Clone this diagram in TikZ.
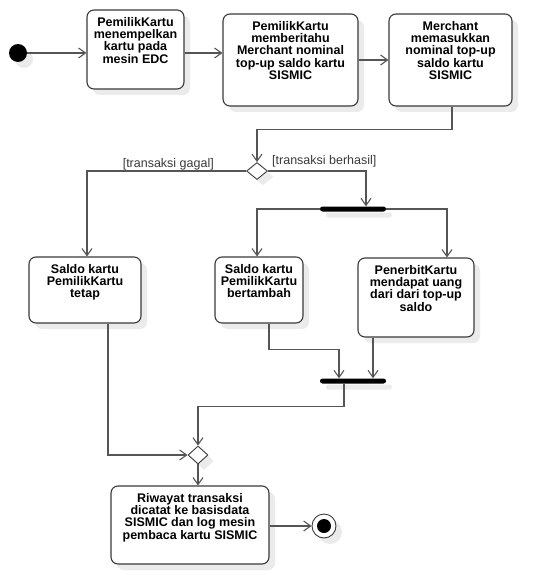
\documentclass[tikz,border=0pt]{standalone}
\usepackage{fontspec}
\setmainfont{Liberation Sans}
\usetikzlibrary{arrows.meta,shapes.geometric,shadows}
\definecolor{linegray}{HTML}{555555}
\definecolor{edgegray}{HTML}{3A3A3A}
\definecolor{shadegray}{HTML}{EBEBEB}
\newcommand{\actbox}[3]{\parbox[c][#2pt][t]{#1pt}{\centering\vspace{7pt}\bfseries #3}}
\tikzset{
  shade/.style={drop shadow={shadow xshift=6pt, shadow yshift=-6pt, fill=shadegray, opacity=1}},
  act/.style={draw=edgegray, fill=white, line width=1.1pt, rounded corners=7pt, inner sep=0pt, shade,
    font=\fontsize{12.5}{12.4}\selectfont},
  choice/.style={draw=edgegray, fill=white, line width=0.9pt, diamond, inner sep=0pt, shade},
  bar/.style={fill=black, rounded corners=2.5pt, minimum width=66pt, minimum height=5pt, inner sep=0pt, shade},
  guard/.style={font=\fontsize{12.5}{12}\selectfont, inner sep=0pt, text=edgegray},
  flow/.style={draw=linegray, line width=1.1pt, -{Straight Barb[length=7pt, width=10pt]}}
}
\begin{document}
\begin{tikzpicture}[x=1pt, y=-1pt]
\useasboundingbox (0,0) rectangle (540,575);
\node[circle, fill=black, minimum size=18pt, inner sep=0pt, shade] (start) at (18,53) {};
\node[act] (box1) at (135.5,49.5) {\actbox{97}{79}{PemilikKartu\\menempelkan\\kartu pada\\mesin EDC}};
\node[act] (box2) at (290.5,60) {\actbox{135}{92}{PemilikKartu\\memberitahu\\Merchant nominal\\top-up saldo kartu\\SISMIC}};
\node[act] (box3) at (450.5,60) {\actbox{123}{92}{Merchant\\memasukkan\\nominal top-up\\saldo kartu\\SISMIC}};
\node[choice, minimum width=21pt, minimum height=17pt] (dec1) at (257,171) {};
\node[guard, anchor=east] (lgagal) at (214,164) {[transaksi gagal]};
\node[guard, anchor=west] (lberhasil) at (272,161) {[transaksi berhasil]};
\node[bar] (fork) at (353,209) {};
\node[act] (box4) at (85,290) {\actbox{112}{66}{Saldo kartu\\PemilikKartu\\tetap}};
\node[act] (box5) at (259,290) {\actbox{88}{66}{Saldo kartu\\PemilikKartu\\bertambah}};
\node[act] (box6) at (416,297.5) {\actbox{116}{79}{PenerbitKartu\\mendapat uang\\dari dari top-up\\saldo}};
\node[bar] (join) at (353,381) {};
\node[choice, minimum width=20pt, minimum height=18pt] (dec2) at (198,455) {};
\node[act] (box7) at (190,525) {\actbox{158}{78}{Riwayat transaksi\\dicatat ke basisdata\\SISMIC dan log mesin\\pembaca kartu SISMIC}};
\node[circle, draw=edgegray, fill=white, line width=0.9pt, minimum size=24pt, inner sep=0pt, shade,
  path picture={\fill[black] (path picture bounding box.center) circle (7pt);}] (end) at (324,526) {};
\draw[flow] (start.east) -- (start.east -| box1.west);
\draw[flow] (box1.east |- start) -- (box2.west |- start);
\draw[flow] (box2.east) -- (box3.west);
\draw[flow] ([xshift=1.5pt]box3.south) -- ++(0,23) -| (dec1.north);
\draw[flow] (dec1.west) -| ([xshift=2pt]box4.north);
\draw[flow] (dec1.east) -| ([xshift=13pt]fork.north);
\draw[flow] (fork.west) -| ([xshift=-2pt]box5.north);
\draw[flow] (fork.east) -| ([xshift=31pt]box6.north);
\draw[flow] ([xshift=10pt]box5.south) -- ++(0,26) -| ([xshift=-14pt]join.north);
\draw[flow] ([xshift=-43pt]box6.south) -- ([xshift=-43pt]box6.south |- join.north);
\draw[flow] ([xshift=-9pt]join.south) -- ++(0,23) -| (dec2.north);
\draw[flow] ([xshift=23pt]box4.south) |- (dec2.west);
\draw[flow] (dec2.south) -- (dec2.south |- box7.north);
\draw[flow] (box7.east |- end) -- (end.west);
\end{tikzpicture}
\end{document}
